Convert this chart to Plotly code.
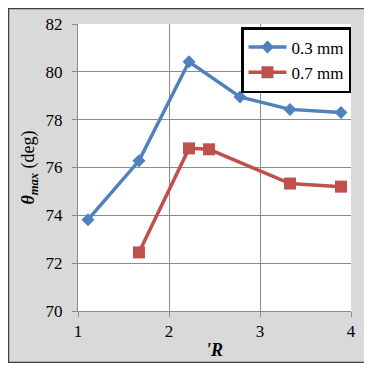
import plotly.graph_objects as go

x_03 = [1.11, 1.67, 2.22, 2.78, 3.33, 3.89]
y_03 = [73.82, 76.28, 80.42, 78.95, 78.43, 78.30]
x_07 = [1.67, 2.22, 2.44, 3.33, 3.89]
y_07 = [72.45, 76.80, 76.76, 75.33, 75.20]
names = ["0.3 mm", "0.7 mm"]

BLUE = "#4F81BD"
RED = "#C0504D"
FONT = "Liberation Serif"
GRID = "#8C8C8C"

fig = go.Figure()
fig.add_trace(go.Scatter(x=x_03, y=y_03, name=names[0], mode="lines+markers",
                         line=dict(color=BLUE, width=3.5),
                         marker=dict(symbol="diamond", size=10, color=BLUE)))
fig.add_trace(go.Scatter(x=x_07, y=y_07, name=names[1], mode="lines+markers",
                         line=dict(color=RED, width=3.5),
                         marker=dict(symbol="square", size=12, color=RED)))

# figure sits at page offset (8, 8) because of body margin
W, H = 358, 355
L, R, T, B = 70, 15, 16, 52
pw = W - L - R
ph = H - T - B

def px2x(px):
    return (px - 8 - L) / pw

def py2y(py):
    return (H - B - (py - 8)) / ph

fig.add_shape(type="rect", xref="paper", yref="paper",
              x0=px2x(8.5), x1=px2x(365.5), y0=py2y(362.5), y1=py2y(8.5),
              fillcolor="rgba(0,0,0,0)", line=dict(color="#404040", width=1.5), layer="above")

fig.update_layout(
    width=W, height=H,
    margin=dict(l=L, r=R, t=T, b=B, autoexpand=False),
    paper_bgcolor="#D9D9D9",
    plot_bgcolor="white",
    font=dict(family=FONT, size=15, color="black"),
    showlegend=True,
    legend=dict(x=px2x(241), y=py2y(27), xanchor="left", yanchor="top",
                bgcolor="white", bordercolor="black", borderwidth=2.5,
                font=dict(family=FONT, size=17), tracegroupgap=0,
                itemwidth=38),
    xaxis=dict(range=[1, 4], tickvals=[1, 2, 3, 4], showgrid=True, automargin=False,
               gridcolor=GRID, gridwidth=1, showline=True, linecolor=GRID,
               ticks="outside", ticklen=5, tickcolor=GRID, zeroline=False,
               tickfont=dict(family=FONT, size=17),
               title=dict(text="<b><i>'R</i></b>", font=dict(family=FONT, size=18), standoff=2)),
    yaxis=dict(range=[70, 82], tickvals=[70, 72, 74, 76, 78, 80, 82], showgrid=True, automargin=False,
               gridcolor=GRID, gridwidth=1, showline=True, linecolor=GRID,
               ticks="outside", ticklen=5, tickcolor=GRID, zeroline=False,
               ticklabelstandoff=6,
               tickfont=dict(family=FONT, size=17),
               title=dict(text="<b><i>θ</i></b><sub><b><i>max</i></b></sub> (deg)",
                          font=dict(family=FONT, size=18), standoff=6)),
)

fig.write_html("out.html")
